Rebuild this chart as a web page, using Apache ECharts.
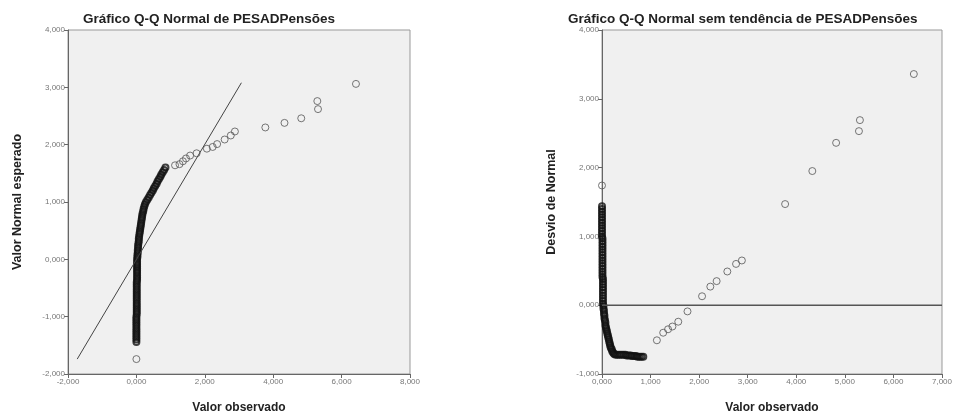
<!DOCTYPE html>
<html><head><meta charset="utf-8">
<script src="https://cdn.jsdelivr.net/npm/echarts@6/dist/echarts.min.js"></script>
<style>html,body{margin:0;padding:0;background:#fff}#c{width:957px;height:419px}</style>
</head><body><div id="c"></div>
<script>
const leftTitle = 'Gráfico Q-Q Normal de PESADPensões';
const rightTitle = 'Gráfico Q-Q Normal sem tendência de PESADPensões';
const xAxisName = 'Valor observado';
const leftYAxisName = 'Valor Normal esperado';
const rightYAxisName = 'Desvio de Normal';

// Dense cluster of points (observed value, expected normal, deviation from normal)
const denseObserved = [
  0.00,0.00,0.00,0.00,0.00,0.00,0.00,0.00,0.00,0.00,0.00,0.00,
  0.01,0.01,0.01,0.01,0.01,0.01,0.01,0.01,0.01,0.01,0.01,0.01,0.01,0.01,0.01,
  0.02,0.02,0.02,0.02,0.02,0.02,0.02,0.02,0.02,
  0.02,0.03,0.03,0.04,0.04,0.05,0.05,0.06,0.07,0.07,0.08,0.09,0.10,0.11,0.12,0.13,0.14,0.15,0.16,0.17,0.18,0.20,0.21,0.23,0.25,0.28,
  0.32,0.36,0.40,0.44,0.48,0.51,0.55,0.59,0.62,0.66,0.70,0.73,0.77,0.81,0.85
];
const denseExpected = [
  -1.44,-1.40,-1.36,-1.32,-1.28,-1.24,-1.20,-1.16,-1.12,-1.08,-1.04,-1.00,
  -0.96,-0.92,-0.88,-0.84,-0.80,-0.76,-0.72,-0.68,-0.64,-0.60,-0.56,-0.52,-0.48,-0.44,-0.40,
  -0.36,-0.32,-0.28,-0.24,-0.20,-0.16,-0.12,-0.08,-0.04,
  0.00,0.04,0.08,0.12,0.16,0.20,0.24,0.28,0.32,0.36,0.40,0.44,0.48,0.52,0.56,0.60,0.64,0.68,0.72,0.76,0.80,0.84,0.88,0.92,0.96,1.00,
  1.04,1.08,1.12,1.16,1.20,1.24,1.28,1.32,1.36,1.40,1.44,1.48,1.52,1.56,1.60
];
const denseDeviation = [
  1.44,1.40,1.36,1.32,1.28,1.24,1.20,1.16,1.12,1.08,1.04,1.00,
  0.97,0.93,0.89,0.85,0.81,0.77,0.73,0.69,0.65,0.61,0.57,0.53,0.49,0.45,0.41,
  0.38,0.34,0.30,0.26,0.22,0.18,0.14,0.10,0.06,
  0.02,-0.01,-0.05,-0.08,-0.12,-0.15,-0.19,-0.22,-0.25,-0.29,-0.32,-0.35,-0.38,-0.41,-0.44,-0.47,-0.50,-0.53,-0.56,-0.59,-0.62,-0.64,-0.67,-0.69,-0.71,-0.72,
  -0.72,-0.72,-0.72,-0.72,-0.72,-0.73,-0.73,-0.73,-0.74,-0.74,-0.74,-0.75,-0.75,-0.75,-0.75
];

// Isolated points: lowest case and sparse upper tail
const sparseObserved  = [0.00,1.13,1.26,1.36,1.45,1.57,1.76,2.06,2.23,2.36,2.58,2.76,2.88,3.77,4.33,4.82,5.29,5.31,6.42];
const sparseExpected  = [-1.74,1.64,1.66,1.71,1.76,1.81,1.85,1.93,1.96,2.01,2.09,2.16,2.23,2.30,2.38,2.46,2.76,2.62,3.06];
const sparseDeviation = [1.74,-0.51,-0.40,-0.35,-0.31,-0.24,-0.09,0.13,0.27,0.35,0.49,0.60,0.65,1.47,1.95,2.36,2.53,2.69,3.36];

// Reference lines
const fitLineX = [-1.73, 3.07];
const fitLineY = [-1.74, 3.08];
const zeroLineX = [0, 7];
const zeroLineY = [0, 0];

const zip = (a, b) => a.map((v, i) => [v, b[i]]);
const fmt = v => v.toFixed(3).replace('.', ',');
const FONT = 'Liberation Sans, Arial, sans-serif';

function xAx(gi, min, max, interval) {
  return {
    type: 'value', gridIndex: gi, min, max, interval,
    name: xAxisName, nameLocation: 'middle', nameGap: 28,
    nameTextStyle: { fontSize: 12, fontWeight: 'bold', color: '#222', fontFamily: FONT },
    axisLine: { show: true, onZero: false, lineStyle: { color: '#666', width: 1 } },
    axisTick: { show: true, length: 4, lineStyle: { color: '#666' } },
    axisLabel: { formatter: fmt, fontSize: 8, color: '#777', margin: 4, fontFamily: FONT },
    splitLine: { show: false }
  };
}
function yAx(gi, min, max, interval, name) {
  return {
    type: 'value', gridIndex: gi, min, max, interval,
    name, nameLocation: 'middle', nameGap: 44, nameRotate: 90,
    nameTextStyle: { fontSize: 12.5, fontWeight: 'bold', color: '#222', fontFamily: FONT },
    axisLine: { show: true, onZero: false, lineStyle: { color: '#666', width: 1 } },
    axisTick: { show: true, length: 4, lineStyle: { color: '#666' } },
    axisLabel: { formatter: fmt, fontSize: 8, color: '#777', margin: 3, fontFamily: FONT },
    splitLine: { show: false }
  };
}
const markerDense = { color: 'rgba(0,0,0,0)', borderColor: '#111', borderWidth: 2 };
const markerSparse = { color: 'rgba(0,0,0,0)', borderColor: '#555', borderWidth: 1 };
const titleStyle = { fontSize: 13.5, fontWeight: 'bold', color: '#222', fontFamily: FONT };

const chart = echarts.init(document.getElementById('c'), null, { renderer: 'canvas' });
chart.setOption({
  animation: false,
  backgroundColor: '#fff',
  textStyle: { fontFamily: FONT },
  title: [
    { text: leftTitle, left: 83, top: 12, padding: 0, textStyle: titleStyle },
    { text: rightTitle, left: 568, top: 12, padding: 0, textStyle: titleStyle }
  ],
  grid: [
    { left: 68, top: 30, width: 342, height: 345, show: true, backgroundColor: '#f0f0f0', borderColor: '#999', borderWidth: 1 },
    { left: 602, top: 30, width: 340, height: 346, show: true, backgroundColor: '#f0f0f0', borderColor: '#999', borderWidth: 1 }
  ],
  xAxis: [xAx(0, -2, 8, 2), xAx(1, 0, 7, 1)],
  yAxis: [yAx(0, -2, 4, 1, leftYAxisName), yAx(1, -1, 4, 1, rightYAxisName)],
  series: [
    { type: 'line', xAxisIndex: 0, yAxisIndex: 0, data: zip(fitLineX, fitLineY), symbol: 'none', lineStyle: { color: '#444', width: 1 }, silent: true },
    { type: 'scatter', xAxisIndex: 0, yAxisIndex: 0, data: zip(denseObserved, denseExpected), symbol: 'circle', symbolSize: 6, itemStyle: markerDense, silent: true },
    { type: 'scatter', xAxisIndex: 0, yAxisIndex: 0, data: zip(sparseObserved, sparseExpected), symbol: 'circle', symbolSize: 7, itemStyle: markerSparse, silent: true },
    { type: 'line', xAxisIndex: 1, yAxisIndex: 1, data: zip(zeroLineX, zeroLineY), symbol: 'none', lineStyle: { color: '#555', width: 1.5 }, silent: true },
    { type: 'scatter', xAxisIndex: 1, yAxisIndex: 1, data: zip(denseObserved, denseDeviation), symbol: 'circle', symbolSize: 6, itemStyle: markerDense, silent: true },
    { type: 'scatter', xAxisIndex: 1, yAxisIndex: 1, data: zip(sparseObserved, sparseDeviation), symbol: 'circle', symbolSize: 7, itemStyle: markerSparse, silent: true }
  ]
});
</script></body></html>
